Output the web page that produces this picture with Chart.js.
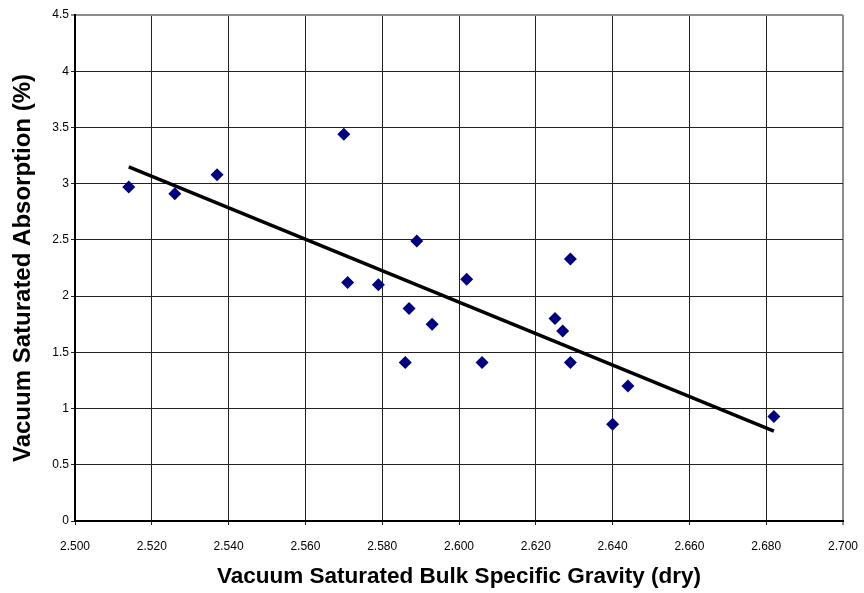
<!DOCTYPE html>
<html>
<head>
<meta charset="utf-8">
<script src="https://cdn.jsdelivr.net/npm/chart.js@4"></script>
<style>
    html, body { margin: 0; padding: 0; background: #ffffff; }
    #chartBox { width: 864px; height: 593px; }
</style>
</head>
<body>
<div id="chartBox"><canvas id="absorptionChart"></canvas></div>
<script>
// values
const bulkGravity = [2.514, 2.526, 2.537, 2.570, 2.589, 2.571, 2.579, 2.602, 2.629, 2.587,
                     2.593, 2.625, 2.627, 2.586, 2.606, 2.629, 2.644, 2.640, 2.682];
const absorption = [2.97, 2.91, 3.08, 3.44, 2.49, 2.12, 2.10, 2.15, 2.33, 1.89,
                    1.75, 1.80, 1.69, 1.41, 1.41, 1.41, 1.20, 0.86, 0.93];

// linear trend line end points
const trendGravity = [2.514, 2.682];
const trendAbsorption = [3.15, 0.80];

const xRange = [2.5, 2.7];
const yRange = [0, 4.5];

const fontFamily = "'Liberation Sans', Arial, sans-serif";
const tickFont = { family: fontFamily, size: 12 };

function toPoints(xs, ys) {
    return xs.map(function (x, i) {
        return { x: x, y: ys[i] };
    });
}

function isEdge(context, edgeValue) {
    return context.tick && Math.abs(context.tick.value - edgeValue) < 1e-9;
}

function gridColor(edgeValue) {
    return function (context) {
        return isEdge(context, edgeValue) ? '#8c8c8c' : '#222222';
    };
}

function gridWidth(edgeValue) {
    return function (context) {
        return isEdge(context, edgeValue) ? 2 : 1;
    };
}

const canvas = document.getElementById('absorptionChart');

const scatterChart = new Chart(canvas, {
    type: 'scatter',
    data: {
        datasets: [{
            label: "Trend",
            data: toPoints(trendGravity, trendAbsorption),
            showLine: true,
            borderColor: '#000000',
            borderWidth: 3.5,
            pointRadius: 0,
            order: 0
        }, {
            label: "Samples",
            data: toPoints(bulkGravity, absorption),
            pointStyle: 'rectRot',
            pointRadius: 6.5,
            pointHoverRadius: 6.5,
            backgroundColor: '#000080',
            borderColor: '#000080',
            borderWidth: 0,
            order: 1
        }]
    },
    options: {
        responsive: true,
        maintainAspectRatio: false,
        animation: false,
        layout: {
            padding: { top: 15, right: 21, bottom: 0, left: 0 }
        },
        plugins: {
            legend: { display: false },
            tooltip: { enabled: false }
        },
        scales: {
            x: {
                type: 'linear',
                min: xRange[0],
                max: xRange[1],
                afterFit: function (scale) {
                    scale.height = 72;
                    scale.paddingLeft = 0;
                    scale.paddingRight = 0;
                },
                ticks: {
                    stepSize: 0.02,
                    color: '#000000',
                    font: tickFont,
                    padding: 14,
                    maxRotation: 0,
                    callback: function (value) { return Number(value).toFixed(3); }
                },
                grid: {
                    color: gridColor(xRange[1]),
                    lineWidth: gridWidth(xRange[1]),
                    tickLength: 4
                },
                border: { color: '#000000', width: 2 },
                title: {
                    display: true,
                    text: 'Vacuum Saturated Bulk Specific Gravity (dry)',
                    color: '#000000',
                    font: { family: fontFamily, size: 22.5, weight: 'bold' },
                    padding: { top: 0, bottom: 3 }
                }
            },
            y: {
                type: 'linear',
                min: yRange[0],
                max: yRange[1],
                afterFit: function (scale) {
                    scale.width = 75;
                    scale.paddingTop = 0;
                    scale.paddingBottom = 0;
                },
                ticks: {
                    stepSize: 0.5,
                    color: '#000000',
                    font: tickFont,
                    padding: 2,
                    callback: function (value) { return String(Math.round(value * 10) / 10); }
                },
                grid: {
                    color: gridColor(yRange[1]),
                    lineWidth: gridWidth(yRange[1]),
                    tickLength: 4
                },
                border: { color: '#000000', width: 2 },
                title: {
                    display: true,
                    text: 'Vacuum Saturated Absorption (%)',
                    color: '#000000',
                    font: { family: fontFamily, size: 24, weight: 'bold' },
                    padding: { top: 9, bottom: 0 }
                }
            }
        }
    }
});
</script>
</body>
</html>
